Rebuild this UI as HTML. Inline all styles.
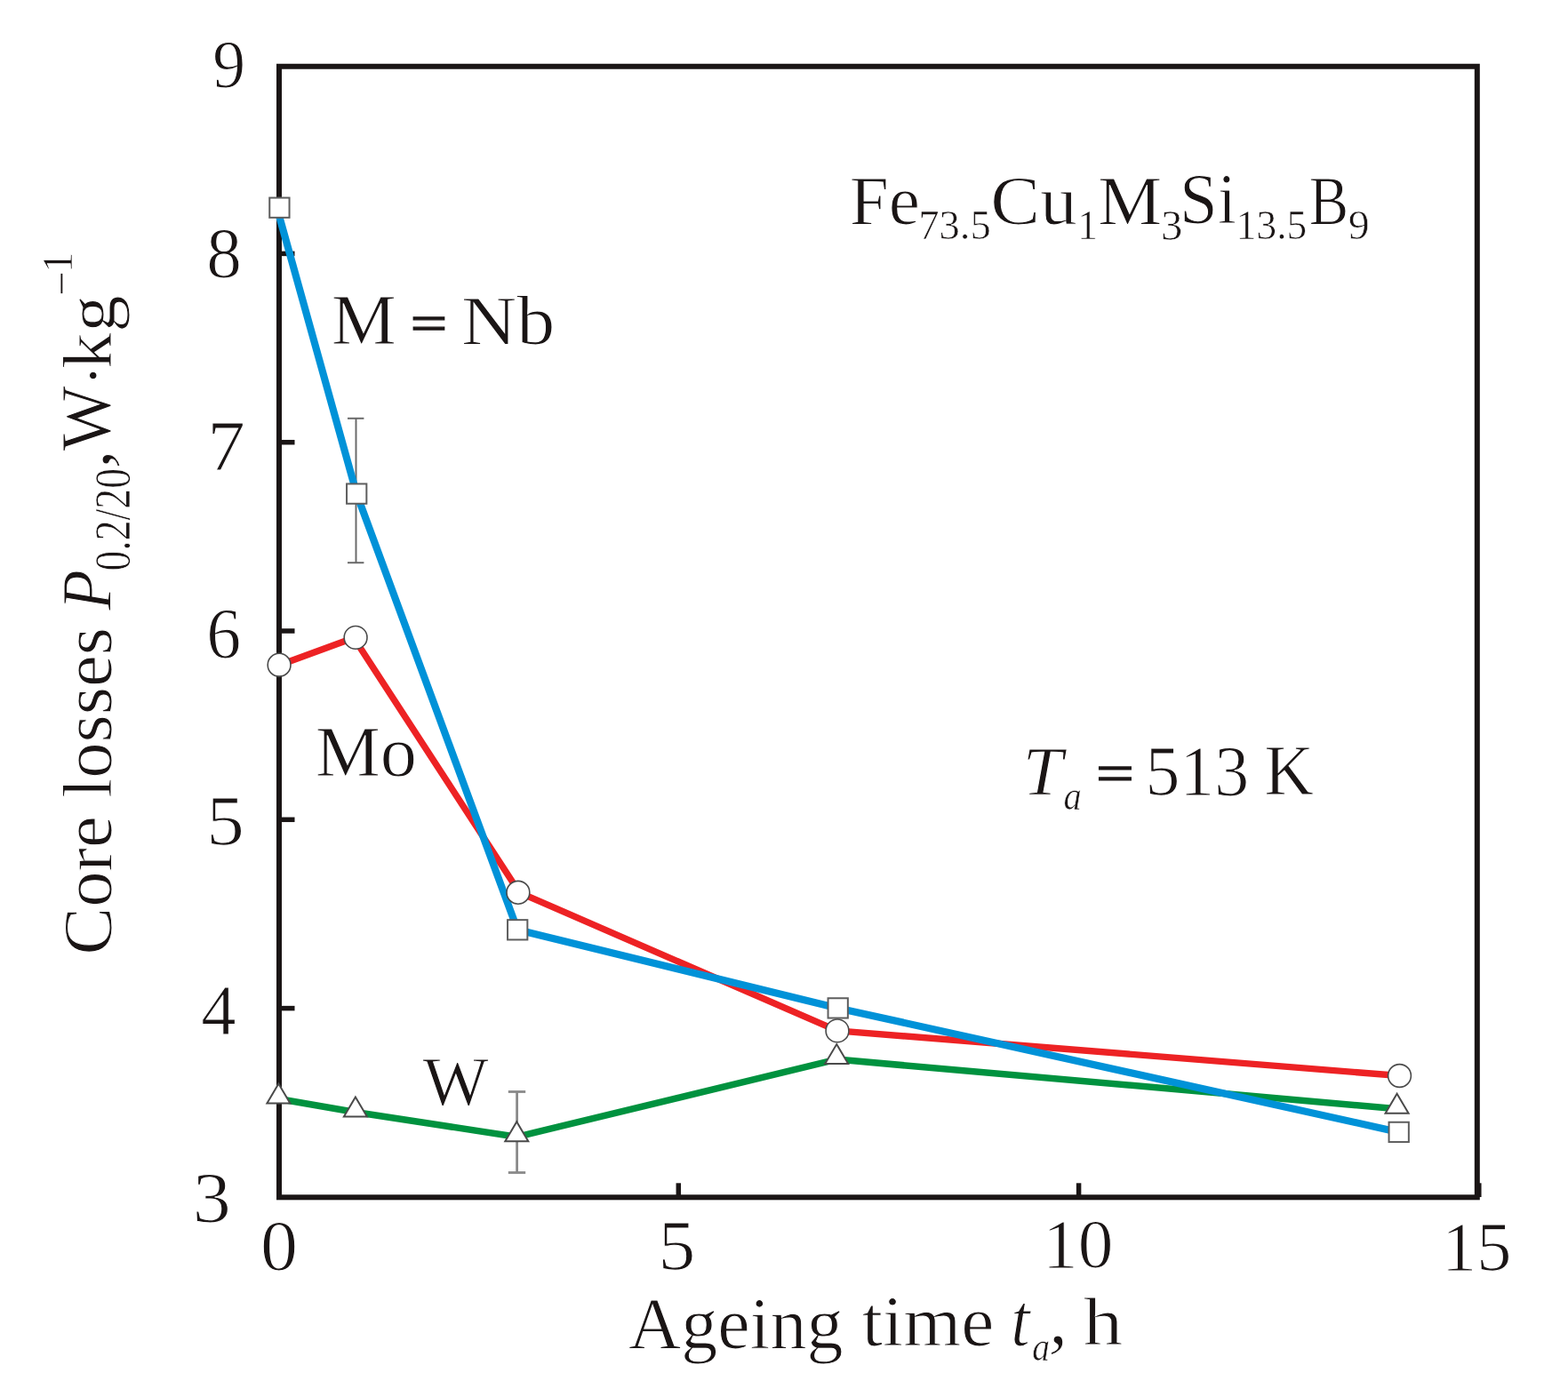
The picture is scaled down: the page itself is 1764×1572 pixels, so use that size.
<!DOCTYPE html>
<html><head><meta charset="utf-8"><title>Core losses vs ageing time</title>
<style>html,body{margin:0;padding:0;background:#fff;overflow:hidden}svg{display:block}</style></head>
<body>
<svg width="1764" height="1572" viewBox="0 0 1764 1572">
<rect width="1764" height="1572" fill="#fff"/>
<g stroke="#1a1515" stroke-width="5.5" fill="none"><line x1="314" y1="285.4" x2="331.5" y2="285.4"/><line x1="314" y1="497.7" x2="331.5" y2="497.7"/><line x1="314" y1="710.0" x2="331.5" y2="710.0"/><line x1="314" y1="922.3" x2="331.5" y2="922.3"/><line x1="314" y1="1134.6" x2="331.5" y2="1134.6"/><line x1="763.3" y1="1347" x2="763.3" y2="1331.3"/><line x1="1213.6" y1="1347" x2="1213.6" y2="1331.3"/><line x1="1663.8" y1="1347" x2="1663.8" y2="1331.3"/></g>
<rect x="314" y="74.75" width="1347.8" height="1272.55" fill="none" stroke="#1a1515" stroke-width="6"/>
<g fill="none" stroke="#6a6a6a" stroke-width="2">
<line x1="400.5" y1="470.8" x2="400.5" y2="633.2"/><line x1="391" y1="470.8" x2="409.4" y2="470.8"/><line x1="391" y1="633.2" x2="409.4" y2="633.2"/>
</g>
<g fill="none" stroke="#8a8a8a" stroke-width="2.8">
<line x1="581.6" y1="1228.5" x2="581.6" y2="1319.5"/><line x1="571.8" y1="1228.5" x2="591.2" y2="1228.5"/><line x1="571.8" y1="1319.5" x2="591.2" y2="1319.5"/>
</g>
<g fill="none" stroke-width="7.0" stroke-linejoin="round" stroke-linecap="butt">
<polyline points="313.4,1236.5 399.9,1251.5 581.3,1279.3 941.2,1192.1 1571.6,1247.7" stroke="#00923f" stroke-width="7.5"/>
<polyline points="314.1,748.4 398.0,717.8 584.3,1004.3 942.0,1159.9 1574.5,1210.5" stroke="#ed2224" stroke-width="7.4"/>
<polyline points="311.5,233.7 401.2,555.6 582.2,1046.3 942.7,1134.4 1573.7,1273.9" stroke="#0092d8" stroke-width="8.2"/>
</g>
<g fill="#fff" stroke="#5e5e5e" stroke-width="2"><rect x="303.25" y="222.55" width="22.3" height="22.3"/><rect x="390.05" y="544.45" width="22.3" height="22.3"/><rect x="571.05" y="1035.15" width="22.3" height="22.3"/><rect x="931.55" y="1123.25" width="22.3" height="22.3"/><rect x="1562.55" y="1262.75" width="22.3" height="22.3"/></g>
<g fill="#fff" stroke="#4a4a4a" stroke-width="1.6"><circle cx="314.1" cy="748.2" r="12.9"/><circle cx="400.1" cy="717.4" r="12.9"/><circle cx="582.9" cy="1004.3" r="12.9"/><circle cx="942.0" cy="1159.9" r="12.9"/><circle cx="1574.5" cy="1210.5" r="12.9"/></g>
<g fill="#fff" stroke="#4a4a4a" stroke-width="2" stroke-linejoin="miter"><path d="M313.40,1219.50 L326.40,1241.50 L300.40,1241.50 Z"/><path d="M399.90,1234.50 L412.90,1256.50 L386.90,1256.50 Z"/><path d="M581.30,1262.30 L594.30,1284.30 L568.30,1284.30 Z"/><path d="M941.20,1175.10 L954.20,1197.10 L928.20,1197.10 Z"/><path d="M1571.60,1230.70 L1584.60,1252.70 L1558.60,1252.70 Z"/></g>
<g font-family="'Liberation Serif', serif" font-size="100" fill="#1a1515" stroke="#fff" stroke-width="1.3" xml:space="preserve">
<text transform="matrix(0.7372 0 0 0.7697 239.1884 98.2303)">9</text>
<text transform="matrix(0.7929 0 0 0.797 232.3286 311.706)">8</text>
<text transform="matrix(0.8525 0 0 0.7985 233.1325 529.4)">7</text>
<text transform="matrix(0.7791 0 0 0.8 232.1837 739.5)">6</text>
<text transform="matrix(0.8525 0 0 0.797 232.185 951.403)">5</text>
<text transform="matrix(0.787 0 0 0.7938 226.1261 1163.5)">4</text>
<text transform="matrix(0.861 0 0 0.8106 216.6951 1375.4894)">3</text>
<text transform="matrix(0.8405 0 0 0.7955 293.0381 1428.709)">0</text>
<text transform="matrix(0.8375 0 0 0.8015 740.475 1429.2985)">5</text>
<text transform="matrix(0.7931 0 0 0.7765 1173.0621 1426.3471)">10</text>
<text transform="matrix(0.7839 0 0 0.7925 1621.9448 1429.0075)">15</text>
<text transform="matrix(0.7925 0 0 0.7879 955.7226 252.0121)">Fe</text>
<text transform="matrix(0.4665 0 0 0.4712 1033.1348 269.4288)">73.5</text>
<text transform="matrix(0.836 0 0 0.7881 1114.1559 251.5239)">Cu</text>
<text transform="matrix(0.4514 0 0 0.4636 1212.2371 269.4)">1</text>
<text transform="matrix(0.8133 0 0 0.7892 1235.0602 252.1)">M</text>
<text transform="matrix(0.4878 0 0 0.4818 1305.961 269.6182)">3</text>
<text transform="matrix(0.7676 0 0 0.7955 1327.027 251.109)">Si</text>
<text transform="matrix(0.4543 0 0 0.4552 1390.8111 269.3448)">13.5</text>
<text transform="matrix(0.6661 0 0 0.7769 1472.7017 251.7)">B</text>
<text transform="matrix(0.4791 0 0 0.4621 1516.8628 269.3379)">9</text>
<text transform="matrix(0.8229 0 0 0.8 372.8313 387.1)">M</text>
<text transform="matrix(0.734 0 0 0.572 461.7298 382.812)" stroke="#1a1515" stroke-width="2.2">=</text>
<text transform="matrix(0.8617 0 0 0.7843 519.0148 387.4157)">Nb</text>
<text transform="matrix(0.8235 0 0 0.8 354.6295 872.7)">Mo</text>
<text transform="matrix(0.7872 0 0 0.7821 475.5 1243.3358)">W</text>
<text transform="matrix(0.8093 0 0 0.7877 1150.4352 893.5)" font-style="italic">T</text>
<text transform="matrix(0.4047 0 0 0.4542 1196.586 911.2458)" font-style="italic">a</text>
<text transform="matrix(0.7596 0 0 0.588 1232.9021 890.348)" stroke="#1a1515" stroke-width="2.2">=</text>
<text transform="matrix(0.7779 0 0 0.8 1288.4329 894.7)">513</text>
<text transform="matrix(0.7706 0 0 0.7969 1422.2882 893.7)">K</text>
<text transform="matrix(0.8209 0 0 0.831 706.8791 1516.7483)">Ageing</text>
<text transform="matrix(0.8358 0 0 0.7955 969.7642 1514.2045)">time</text>
<text transform="matrix(0.7692 0 0 0.8491 1137.2231 1513.7509)" font-style="italic">t</text>
<text transform="matrix(0.3953 0 0 0.4604 1161.214 1531.1396)" font-style="italic">a</text>
<text transform="matrix(0.875 0 0 0.848 1179.375 1512.08)" font-style="italic">,</text>
<text transform="matrix(0.8937 0 0 0.771 1218.5063 1513.4)">h</text>
<text transform="matrix(0 -0.8044 0.7718 0 125.4563 1074.5177)">Core losses</text>
<text transform="matrix(0 -0.7458 0.8077 0 125 686.8)" font-style="italic">P</text>
<text transform="matrix(0 -0.4571 0.5642 0 146.2716 642.5286)">0.2/20</text>
<text transform="matrix(0 -0.8562 0.776 0 123.16 527.4688)" font-style="italic">,</text>
<text transform="matrix(0 -0.7787 0.809 0 123.6821 507.5)">W</text>
<text transform="matrix(0 -0.7182 0.725 0 129.175 434.4)">·</text>
<text transform="matrix(0 -0.8167 0.7899 0 124.9 415.0333)">k</text>
<text transform="matrix(0 -0.8295 0.7767 0 129.289 373.8182)">g</text>
<text transform="matrix(0 -0.5 0.56 0 87.66 333.3)">−</text>
<text transform="matrix(0 -0.4629 0.4894 0 81.1 306.8657)">1</text>
</g>
</svg>
</body></html>
